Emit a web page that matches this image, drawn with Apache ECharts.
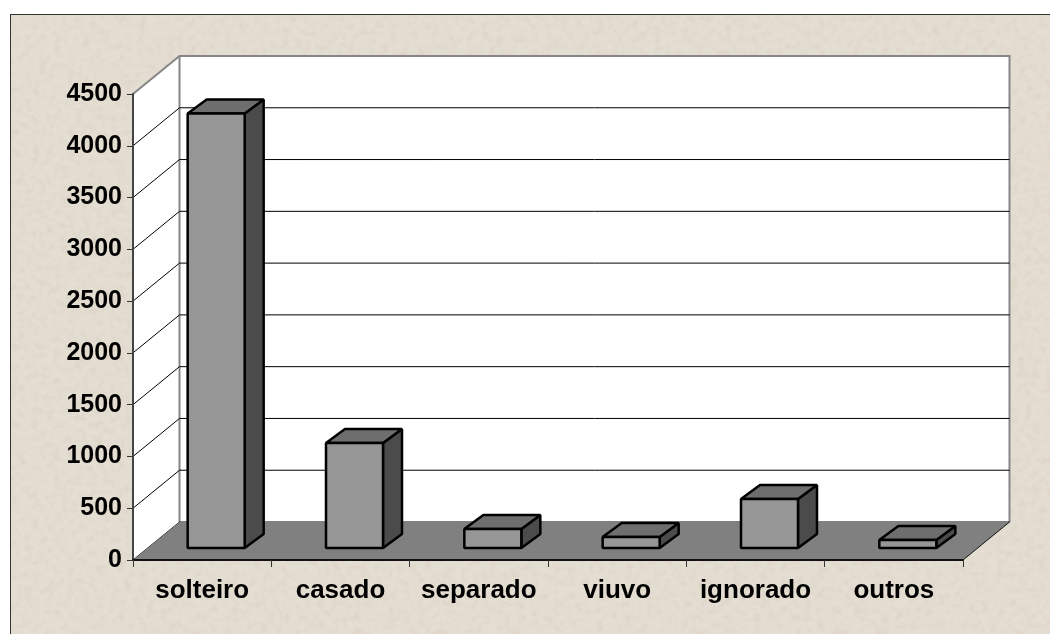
<!DOCTYPE html>
<html>
<head>
<meta charset="utf-8">
<style>
  html, body { margin: 0; padding: 0; background: #fff; overflow: hidden; }
  #frame {
    position: absolute; left: 10px; top: 14px; width: 1040px; height: 620px;
    border-left: 1px solid #333; border-top: 1px solid #333; box-sizing: border-box;
    background-color: #e4ddd1;
    background-image: url("data:image/svg+xml,%3Csvg xmlns='http://www.w3.org/2000/svg' width='1040' height='620'%3E%3Cfilter id='n'%3E%3CfeTurbulence type='fractalNoise' baseFrequency='0.14' numOctaves='3' seed='4'/%3E%3CfeColorMatrix values='0 0 0 0 0.66 0 0 0 0 0.61 0 0 0 0 0.52 0.8 0.8 0 0 -0.72'/%3E%3C/filter%3E%3Crect width='1040' height='620' filter='url(%23n)'/%3E%3C/svg%3E");
  }
  #chart { position: absolute; left: 0; top: 0; width: 1050px; height: 634px; }
</style>
</head>
<body>
<div id="frame"></div>
<div id="chart"></div>
<script src="https://cdn.jsdelivr.net/npm/echarts@6/dist/echarts.min.js"></script>
<script>
var categories = ['solteiro', 'casado', 'separado', 'viuvo', 'ignorado', 'outros'];
var values = [4196, 1013, 183, 106, 473, 77];
var yTicks = [0, 500, 1000, 1500, 2000, 2500, 3000, 3500, 4000, 4500];

(function() {
  var depthX = 46.5, depthY = 38;   // wall depth
  var barDepthX = 19, barDepthY = 14;
  var barInsetX = 14, barInsetY = 12;
  var barWidth = 57;
  var font = 'Arial, "Liberation Sans", sans-serif';

  function poly(points, fill, stroke, width) {
    return {
      type: 'polygon',
      shape: { points: points },
      style: { fill: fill, stroke: stroke, lineWidth: width, lineJoin: 'bevel' }
    };
  }

  function renderWalls(params) {
    var g = params.coordSys;
    var left = g.x, right = g.x + g.width, top = g.y, bottom = g.y + g.height;
    return {
      type: 'group',
      children: [
        poly([[left, top], [left + depthX, top - depthY], [left + depthX, bottom - depthY], [left, bottom]], '#fff', null, 0),
        poly([[left + depthX, top - depthY], [right + depthX, top - depthY], [right + depthX, bottom - depthY], [left + depthX, bottom - depthY]], '#fff', null, 0),
        { type: 'polyline', shape: { points: [[left, top], [left + depthX, top - depthY], [right + depthX, top - depthY], [right + depthX, bottom - depthY]] },
          style: { fill: null, stroke: '#868686', lineWidth: 2 } },
        { type: 'line', shape: { x1: left + depthX, y1: top - depthY, x2: left + depthX, y2: bottom - depthY },
          style: { stroke: '#868686', lineWidth: 2 } }
      ]
    };
  }

  function renderGridLine(params, api) {
    var g = params.coordSys;
    var y = api.coord([0, api.value(1)])[1];
    var top = api.value(1) === yTicks[yTicks.length - 1];
    if (top) return { type: 'group', children: [] };
    return {
      type: 'polyline',
      shape: { points: [[g.x, y], [g.x + depthX, y - depthY], [g.x + g.width + depthX, y - depthY]] },
      style: { fill: null, stroke: '#000', lineWidth: 1 }
    };
  }

  function renderFloor(params) {
    var g = params.coordSys;
    var left = g.x, right = g.x + g.width, bottom = g.y + g.height;
    return {
      type: 'group',
      children: [
        poly([[left, bottom], [left + depthX, bottom - depthY], [right + depthX, bottom - depthY], [right, bottom]], '#808080', null, 0),
        { type: 'line', shape: { x1: right, y1: bottom, x2: right + depthX, y2: bottom - depthY },
          style: { stroke: '#111', lineWidth: 1 } }
      ]
    };
  }

  function renderBar(params, api) {
    var base = api.coord([api.value(0), 0]);
    var tip = api.coord([api.value(0), api.value(1)]);
    var x0 = base[0] + barInsetX - barWidth / 2;
    var x1 = x0 + barWidth;
    var y0 = base[1] - barInsetY;
    var y1 = tip[1] - barInsetY;
    var line = { stroke: '#000', lineWidth: 2.5 };
    return {
      type: 'group',
      children: [
        poly([[x1, y1], [x1 + barDepthX, y1 - barDepthY], [x1 + barDepthX, y0 - barDepthY], [x1, y0]], '#4b4b4b', line.stroke, line.lineWidth),
        poly([[x0, y1], [x0 + barDepthX, y1 - barDepthY], [x1 + barDepthX, y1 - barDepthY], [x1, y1]], '#6e6e6e', line.stroke, line.lineWidth),
        poly([[x0, y1], [x1, y1], [x1, y0], [x0, y0]], '#969696', line.stroke, line.lineWidth)
      ]
    };
  }

  var chart = echarts.init(document.getElementById('chart'), null, { renderer: 'canvas' });
  chart.setOption({
    animation: false,
    backgroundColor: 'transparent',
    grid: { left: 133, right: 87, top: 94, height: 466 },
    xAxis: {
      type: 'category',
      data: categories,
      z: 10,
      axisLine: { lineStyle: { color: '#111', width: 2 } },
      axisTick: { show: true, length: 7, lineStyle: { color: '#333', width: 1 } },
      axisLabel: { color: '#000', fontFamily: font, fontWeight: 'bold', fontSize: 26, margin: 18, interval: 0 },
      splitLine: { show: false }
    },
    yAxis: {
      type: 'value',
      min: 0,
      max: 4500,
      interval: 500,
      z: 10,
      axisLine: { show: true, lineStyle: { color: '#444', width: 2 } },
      axisTick: { show: true, length: 6, lineStyle: { color: '#333', width: 1 } },
      axisLabel: { color: '#000', fontFamily: font, fontWeight: 'bold', fontSize: 25, margin: 11,
        formatter: function(v) { return String(v); } },
      splitLine: { show: false }
    },
    series: [
      { type: 'custom', name: 'walls', z: 1, silent: true, renderItem: renderWalls, data: [[0, 0]] },
      { type: 'custom', name: 'grid', z: 2, silent: true, renderItem: renderGridLine,
        data: yTicks.map(function(t) { return [0, t]; }) },
      { type: 'custom', name: 'floor', z: 3, silent: true, renderItem: renderFloor, data: [[0, 0]] },
      { type: 'custom', name: 'bars', z: 4, renderItem: renderBar,
        data: values.map(function(v, i) { return [i, v]; }) }
    ]
  });
})();
</script>
</body>
</html>
